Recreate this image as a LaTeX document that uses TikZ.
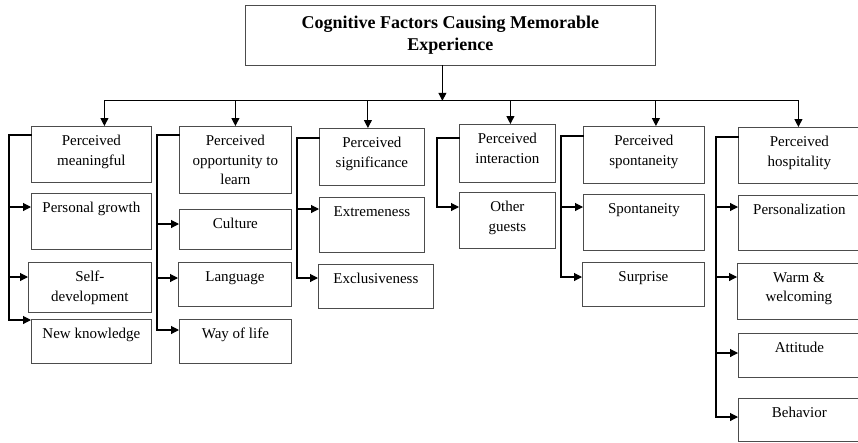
\documentclass[tikz,border=0pt]{standalone}
\usepackage{fontspec}
\setmainfont{Liberation Serif}
\usepackage{tikz}
\usetikzlibrary{arrows.meta}

\begin{document}
\begin{tikzpicture}[x=1pt, y=-1pt,
    box/.style={draw=black!70, line width=.8pt, anchor=north west, inner sep=0pt},
    sz/.style 2 args={minimum width=#1, minimum height=#2},
    txt/.style={anchor=north, yshift=-9pt, align=center, inner sep=0pt,
        font=\fontsize{15}{19.5}\selectfont},
    link/.style={line width=1.1pt, line cap=rect},
    arr/.style={link, -{Triangle[length=8pt,width=8pt]}}]
    \clip (0,0) rectangle (858,442);

    \node[box, sz={410}{60}, align=center,
        font=\fontsize{18}{22}\selectfont\bfseries] (top) at (245,5)
        {Cognitive Factors Causing Memorable\\Experience};

    % first level
    \node[box, sz={120}{56}, label={[txt]north:Perceived\\meaningful}] (p1) at (31,126) {};
    \node[box, sz={112}{67}, label={[txt]north:Perceived\\opportunity to\\learn}] (p2) at (179,126) {};
    \node[box, sz={105}{57}, label={[txt]north:Perceived\\significance}] (p3) at (319,128) {};
    \node[box, sz={96}{58}, label={[txt]north:Perceived\\interaction}] (p4) at (459,124) {};
    \node[box, sz={121}{57}, label={[txt]north:Perceived\\spontaneity}] (p5) at (583,126) {};
    \node[box, sz={122}{56}, label={[txt]north:Perceived\\hospitality}] (p6) at (738,127) {};

    % second level
    \node[box, sz={120}{56}, label={[txt]north:Personal growth}] (c1a) at (31,193) {};
    \node[box, sz={123}{50}, label={[txt]north:Self-\\development}] (c1b) at (28,262) {};
    \node[box, sz={120}{44}, label={[txt]north:New knowledge}] (c1c) at (31,319) {};
    \node[box, sz={112}{40}, label={[txt]north:Culture}] (c2a) at (179,209) {};
    \node[box, sz={113}{44}, label={[txt]north:Language}] (c2b) at (178,262) {};
    \node[box, sz={112}{44}, label={[txt]north:Way of life}] (c2c) at (179,319) {};
    \node[box, sz={105}{55}, label={[txt]north:Extremeness}] (c3a) at (319,197) {};
    \node[box, sz={115}{44}, label={[txt]north:Exclusiveness}] (c3b) at (318,264) {};
    \node[box, sz={96}{56}, label={[txt]north:Other\\guests}] (c4a) at (459,192) {};
    \node[box, sz={121}{56}, label={[txt]north:Spontaneity}] (c5a) at (583,194) {};
    \node[box, sz={122}{44}, label={[txt]north:Surprise}] (c5b) at (582,262) {};
    \node[box, sz={122}{55}, label={[txt]north:Personalization}] (c6a) at (738,195) {};
    \node[box, sz={123}{56}, label={[txt]north:Warm \&\\welcoming}] (c6b) at (737,263) {};
    \node[box, sz={122}{44}, label={[txt]north:Attitude}] (c6c) at (738,333) {};
    \node[box, sz={122}{43}, label={[txt]north:Behavior}] (c6d) at (738,398) {};

    \draw[arr] ([xshift=-8pt]top.south) -- ++(0,35) coordinate (bus);
    \foreach \p/\dx in {p1/13, p2/0, p3/-4, p4/3, p5/12, p6/-1}
        \path (\p.north) ++(\dx,0) coordinate (\p-in);
    \draw[link] (p1-in |- bus) -- (p6-in |- bus);
    \foreach \p in {p1,p2,p3,p4,p5,p6}
        \draw[arr] (\p-in |- bus) -- (\p-in);

    \foreach \p/\dy in {p1/9, p2/9, p3/10, p4/14, p5/10, p6/10}
        \draw[link] ([yshift=-\dy pt]\p.north west) -- ++(-22,0) coordinate (\p-s);
    \foreach \p/\c/\dy in {p1/c1a/14, p1/c1b/15, p1/c1c/1, p2/c2a/15, p2/c2b/16,
        p2/c2c/11, p3/c3a/12, p3/c3b/14, p4/c4a/15, p5/c5a/13, p5/c5b/15,
        p6/c6a/12, p6/c6b/14, p6/c6c/20, p6/c6d/19}
        \draw[arr] (\p-s) |- ([yshift=-\dy pt]\c.north west);

\end{tikzpicture}
\end{document}
